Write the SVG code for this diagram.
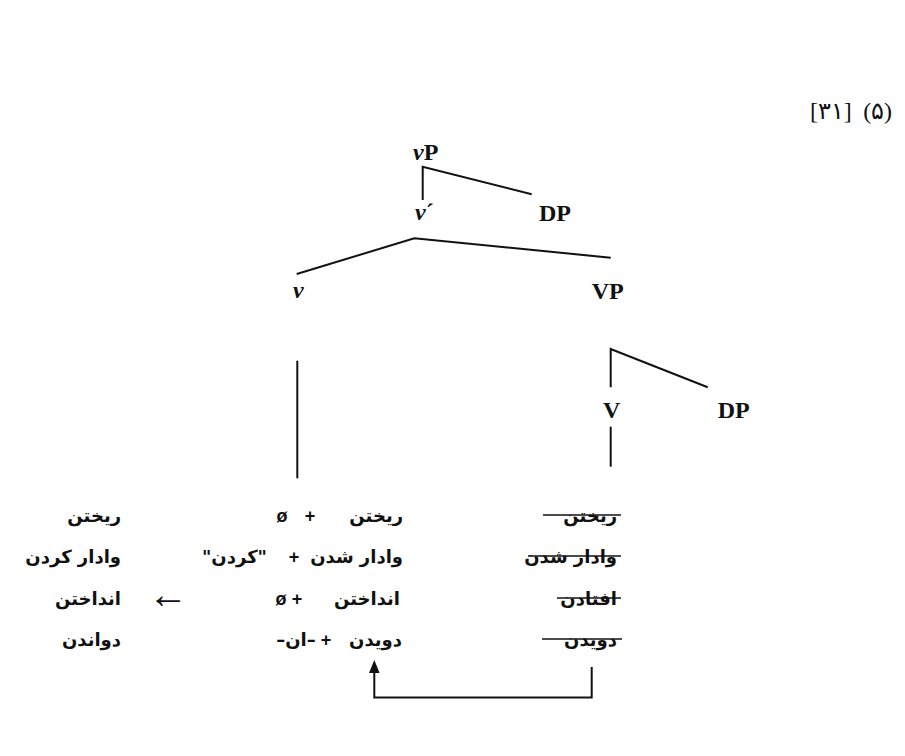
<svg xmlns="http://www.w3.org/2000/svg" width="905" height="756" viewBox="0 0 905 756">
<style>
.lbl{font-family:"Liberation Serif",serif;font-weight:bold;font-size:24px;fill:#111}
.it{font-style:italic}
.fa{font-family:"DejaVu Sans",sans-serif;font-weight:bold;font-size:18px;fill:#111}
.sym{font-family:"Liberation Sans",sans-serif;font-weight:bold;font-size:18px;fill:#111}
.num{font-family:"Liberation Serif","DejaVu Sans",serif;font-size:24px;fill:#111}
.ln{stroke:#111;stroke-width:2;fill:none}
.strike{stroke:#111;stroke-width:1.5}
</style>
<rect width="905" height="756" fill="#fff"/>
<g id="label">
<text class="num" x="810" y="119">[۳۱]</text>
<text class="num" x="892" y="119" text-anchor="end">(۵)</text>
</g>
<g id="connectors">
<path class="ln" d="M422.7,200 V166.7 L531.7,194.3"/>
<path class="ln" d="M296.7,274 L414.3,238.3 L610.7,257.7"/>
<path class="ln" d="M297.3,360.7 V478.3"/>
<path class="ln" d="M610.7,387.3 V349 L707.7,387.3"/>
<path class="ln" d="M610.7,426.7 V466.7"/>
<path class="ln" d="M591.7,667 V697.5 H374.3 V672"/>
<path d="M369,673 L374.3,660 L379.6,673 Z" fill="#111"/>
</g>
<g id="node-vP"><text class="lbl" x="413" y="160"><tspan class="it">v</tspan>P</text></g>
<g id="node-vbar"><text class="lbl" x="415" y="220"><tspan class="it">v</tspan>´</text></g>
<g id="node-DP1"><text class="lbl" x="539" y="221">DP</text></g>
<g id="node-v"><text class="lbl it" x="293" y="298">v</text></g>
<g id="node-VP"><text class="lbl" x="591.7" y="299">VP</text></g>
<g id="node-V"><text class="lbl" x="603" y="418">V</text></g>
<g id="node-DP2"><text class="lbl" x="717.7" y="418">DP</text></g>
<g id="col-result">
<text class="fa" x="121" y="522" text-anchor="end">ریختن</text>
<text class="fa" x="121" y="563" text-anchor="end">وادار کردن</text>
<text class="fa" x="121" y="605" text-anchor="end">انداختن</text>
<text class="fa" x="121" y="646" text-anchor="end">دواندن</text>
</g>
<g id="arrow-sign"><text x="168" y="608" text-anchor="middle" font-family="Liberation Serif, DejaVu Serif, serif" font-size="40" fill="#111">←</text></g>
<g id="col-v">
<text class="sym" x="282" y="522" text-anchor="middle">ø</text>
<text class="sym" x="310" y="522" text-anchor="middle">+</text>
<text class="fa" x="403" y="522" text-anchor="end">ریختن</text>
<text class="fa" x="267" y="563" text-anchor="end">"کردن"</text>
<text class="sym" x="294" y="563" text-anchor="middle">+</text>
<text class="fa" x="403" y="563" text-anchor="end">وادار شدن</text>
<text class="sym" x="281" y="605" text-anchor="middle">ø</text>
<text class="sym" x="297" y="605" text-anchor="middle">+</text>
<text class="fa" x="400" y="605" text-anchor="end">انداختن</text>
<text class="fa" x="296" y="646" text-anchor="middle">–ان–</text>
<text class="sym" x="326" y="646" text-anchor="middle">+</text>
<text class="fa" x="402" y="646" text-anchor="end">دویدن</text>
</g>
<g id="col-V">
<text class="fa" x="617" y="522" text-anchor="end">ریختن</text>
<text class="fa" x="617" y="563" text-anchor="end">وادار شدن</text>
<text class="fa" x="617" y="605" text-anchor="end">افتادن</text>
<text class="fa" x="617" y="646" text-anchor="end">دویدن</text>
<line class="strike" x1="543" y1="515" x2="621" y2="515"/>
<line class="strike" x1="528" y1="556" x2="621" y2="556"/>
<line class="strike" x1="557" y1="598" x2="621" y2="598"/>
<line class="strike" x1="542" y1="639" x2="622" y2="639"/>
</g>
</svg>
